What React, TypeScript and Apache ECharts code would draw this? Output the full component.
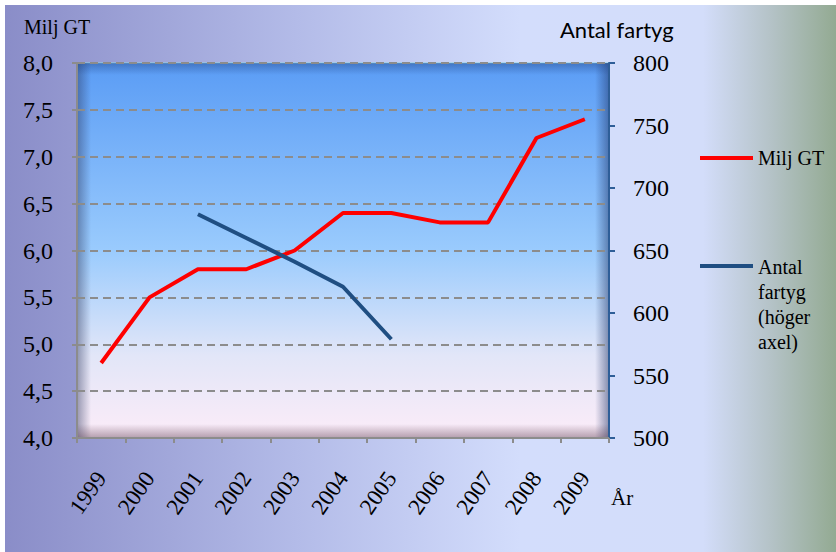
import React, { useEffect, useRef } from "react";
import * as echarts from "echarts";

const years = ["1999", "2000", "2001", "2002", "2003", "2004", "2005", "2006", "2007", "2008", "2009"];
const miljGT = [4.8, 5.5, 5.8, 5.8, 6.0, 6.4, 6.4, 6.3, 6.3, 7.2, 7.4];
const antalFartyg = [null, null, 679, 660, 641, 621, 579, null, null, null, null];
const leftTicks = { min: 4, max: 8, interval: 0.5 };
const rightTicks = { min: 500, max: 800, interval: 50 };

const SERIF = "Liberation Serif";

export default function App() {
  const ref = useRef<HTMLDivElement>(null);
  useEffect(() => {
    if (!ref.current) return;
    const chart = echarts.init(ref.current, null, { renderer: "svg" });
    const L = 77, R = 609, T = 63, B = 438;
    const option: any = {
      animation: false,
      grid: { left: L, right: 836 - R, top: T, bottom: 552 - B, containLabel: false },
      xAxis: {
        type: "category",
        data: years,
        boundaryGap: true,
        axisLine: { show: true, lineStyle: { color: "#8c8c8c", width: 2 } },
        axisTick: { show: true, length: 5, lineStyle: { color: "#8c8c8c", width: 2 } },
        axisLabel: { rotate: 55, margin: 36, fontFamily: SERIF, fontSize: 23, color: "#000" },
        splitLine: { show: false },
      },
      yAxis: [
        {
          type: "value",
          min: leftTicks.min,
          max: leftTicks.max,
          interval: leftTicks.interval,
          position: "left",
          axisLine: { show: true, lineStyle: { color: "#8c8c8c", width: 2 } },
          axisTick: { show: true, length: 5, lineStyle: { color: "#8c8c8c", width: 2 } },
          axisLabel: {
            margin: 24,
            fontFamily: SERIF,
            fontSize: 24,
            color: "#000",
            formatter: (v: number) => v.toFixed(1).replace(".", ","),
          },
          splitLine: { show: true, lineStyle: { color: "#8c8c8c", width: 2, type: [8, 5] } },
        },
        {
          type: "value",
          min: rightTicks.min,
          max: rightTicks.max,
          interval: rightTicks.interval,
          position: "right",
          axisLine: { show: true, lineStyle: { color: "#2e5e98", width: 2 } },
          axisTick: { show: true, length: 6, lineStyle: { color: "#2e5e98", width: 2 } },
          axisLabel: { margin: 24, fontFamily: SERIF, fontSize: 24, color: "#000" },
          splitLine: { show: false },
        },
      ],
      series: [
        {
          name: "Milj GT",
          type: "line",
          yAxisIndex: 0,
          data: miljGT,
          symbol: "none",
          lineStyle: { color: "#ff0000", width: 4 },
          z: 3,
        },
        {
          name: "Antal fartyg (höger axel)",
          type: "line",
          yAxisIndex: 1,
          data: antalFartyg,
          symbol: "none",
          connectNulls: false,
          lineStyle: { color: "#1f4e82", width: 4 },
          z: 4,
        },
      ],
      graphic: [
        {
          type: "rect",
          z: -20,
          shape: { x: 5, y: 5, width: 831, height: 547 },
          style: {
            fill: new echarts.graphic.LinearGradient(0, 0, 1, 0, [
              { offset: 0, color: "#8a8dc8" },
              { offset: 0.35, color: "#b3bbe8" },
              { offset: 0.62, color: "#d3ddfc" },
              { offset: 0.84, color: "#d3ddfa" },
              { offset: 0.92, color: "#b5c3c8" },
              { offset: 1, color: "#93aa92" },
            ]),
          },
        },
        {
          type: "rect",
          z: -15,
          shape: { x: L, y: T, width: R - L, height: B - T },
          style: {
            fill: new echarts.graphic.LinearGradient(0, 0, 0, 1, [
              { offset: 0, color: "#5a9cf5" },
              { offset: 0.5, color: "#9acbfd" },
              { offset: 0.78, color: "#e2e6f8" },
              { offset: 1, color: "#fcecf8" },
            ]),
            stroke: "#8fd3e3",
            lineWidth: 1,
          },
        },
        {
          type: "rect",
          z: -14,
          shape: { x: L, y: T, width: 14, height: B - T },
          style: {
            fill: new echarts.graphic.LinearGradient(0, 0, 1, 0, [
              { offset: 0, color: "rgba(40,50,90,0.45)" },
              { offset: 1, color: "rgba(40,50,90,0)" },
            ]),
          },
        },
        {
          type: "rect",
          z: -14,
          shape: { x: R - 14, y: T, width: 14, height: B - T },
          style: {
            fill: new echarts.graphic.LinearGradient(0, 0, 1, 0, [
              { offset: 0, color: "rgba(30,50,100,0)" },
              { offset: 1, color: "rgba(30,50,100,0.5)" },
            ]),
          },
        },
        {
          type: "rect",
          z: -14,
          shape: { x: L, y: T, width: R - L, height: 12 },
          style: {
            fill: new echarts.graphic.LinearGradient(0, 0, 0, 1, [
              { offset: 0, color: "rgba(30,60,120,0.4)" },
              { offset: 1, color: "rgba(30,60,120,0)" },
            ]),
          },
        },
        {
          type: "rect",
          z: -14,
          shape: { x: L, y: B - 14, width: R - L, height: 14 },
          style: {
            fill: new echarts.graphic.LinearGradient(0, 0, 0, 1, [
              { offset: 0, color: "rgba(90,60,80,0)" },
              { offset: 1, color: "rgba(90,60,80,0.45)" },
            ]),
          },
        },
        {
          type: "text",
          x: 24,
          y: 17,
          style: { text: "Milj GT", fontFamily: SERIF, fontSize: 20, fill: "#000" },
        },
        {
          type: "text",
          x: 560,
          y: 18,
          style: { text: "Antal fartyg", fontFamily: "Lato", fontSize: 22, fill: "#000" },
        },
        {
          type: "text",
          x: 611,
          y: 487,
          style: { text: "År", fontFamily: SERIF, fontSize: 21, fill: "#000" },
        },
        {
          type: "line",
          shape: { x1: 700, y1: 158, x2: 753, y2: 158 },
          style: { stroke: "#ff0000", lineWidth: 4 },
        },
        {
          type: "text",
          x: 758,
          y: 158,
          style: { text: "Milj GT", fontFamily: SERIF, fontSize: 20, fill: "#000", verticalAlign: "middle" },
        },
        {
          type: "line",
          shape: { x1: 700, y1: 266, x2: 753, y2: 266 },
          style: { stroke: "#1f4e82", lineWidth: 4 },
        },
        {
          type: "text",
          x: 758,
          y: 254,
          style: {
            text: "Antal\nfartyg\n(höger\naxel)",
            fontFamily: SERIF,
            fontSize: 20,
            lineHeight: 25,
            fill: "#000",
            verticalAlign: "top",
          },
        },
      ],
    };
    chart.setOption(option);
    return () => chart.dispose();
  }, []);
  return (
    <div
      ref={ref}
      style={{ position: "absolute", left: 0, top: 0, width: 836, height: 552 }}
    />
  );
}
